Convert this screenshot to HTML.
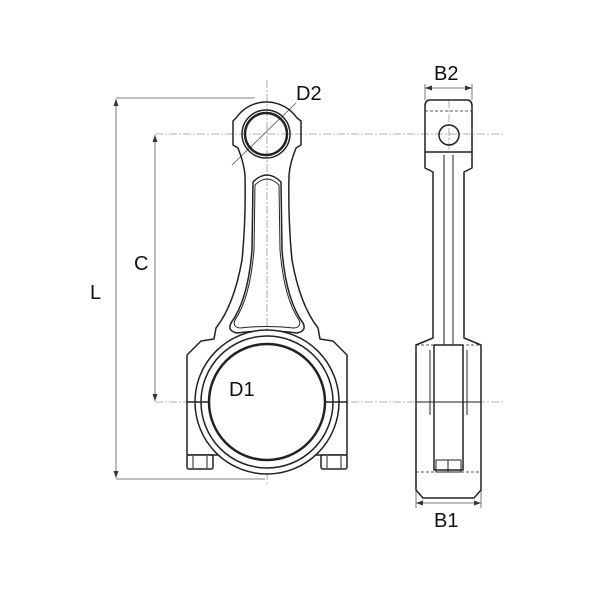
<!DOCTYPE html>
<html><head><style>body{margin:0;background:#fff}svg{display:block}</style></head><body>
<svg width="600" height="600" viewBox="0 0 600 600" xmlns="http://www.w3.org/2000/svg" font-family="Liberation Sans, sans-serif">
<rect width="600" height="600" fill="#fff"/>
<defs><marker id="a" markerWidth="8" markerHeight="8" refX="7" refY="4" orient="auto-start-reverse" markerUnits="userSpaceOnUse"><path d="M0,1.5 L7,4 L0,6.5Z" fill="#333"/></marker></defs>
<g stroke="#999" stroke-width="0.8" stroke-dasharray="8,2,2,2" fill="none">
<line x1="267" y1="80" x2="267" y2="485"/>
<line x1="155" y1="134" x2="505" y2="134"/>
<line x1="155" y1="402" x2="505" y2="402"/>
<line x1="449" y1="100" x2="449" y2="150"/>
</g>
<g stroke="#555" stroke-width="0.8" fill="none">
<line x1="116" y1="98" x2="255" y2="98"/>
<line x1="116" y1="479" x2="265" y2="479"/>
<line x1="116" y1="99" x2="116" y2="478" marker-start="url(#a)" marker-end="url(#a)"/>
<line x1="155" y1="135" x2="155" y2="401" marker-start="url(#a)" marker-end="url(#a)"/>
<line x1="232" y1="165" x2="296" y2="103"/>
<line x1="228" y1="443" x2="307" y2="362"/>
<line x1="425" y1="88" x2="472" y2="88" marker-start="url(#a)" marker-end="url(#a)"/>
<line x1="425" y1="84" x2="425" y2="100"/><line x1="472" y1="84" x2="472" y2="100"/>
<line x1="416" y1="503" x2="481" y2="503" marker-start="url(#a)" marker-end="url(#a)"/>
<line x1="416" y1="485" x2="416" y2="508"/><line x1="481" y1="485" x2="481" y2="508"/>
</g>
<g stroke="#222" stroke-width="1.5" fill="none" stroke-linejoin="round">
<path d="M236,118 A37,37 0 0 1 297,118 L301,121 L301,145 L296,148 Q290,163 289,175 Q288,220 292,260 Q300,305 318,328 L320,339 L333,341 L347,355 L347,455 L187,455 L187,355 L201,341 L214,339 L216,328 Q234,305 242,260 Q246,220 245,175 Q244,163 238,148 L233,145 L233,121 Z"/>
<circle cx="266" cy="134" r="24"/>
<circle cx="266" cy="134" r="21" stroke-width="2.5"/>
<path d="M253,182 Q267,168 281,182 L282,250 Q286,300 303,323 Q307,331 297,333 Q267,329 237,333 Q227,331 231,323 Q248,300 252,250 Z"/>
<path d="M255,185 Q267,173 279,185 L280,250 Q284,298 299,320 Q302,327 294,328 Q267,325 240,328 Q232,327 235,320 Q250,298 254,250 Z" stroke-width="1"/>
<circle cx="267" cy="402" r="72" fill="#fff"/>
<circle cx="267" cy="402" r="66"/>
<circle cx="267" cy="402" r="58" stroke-width="2.5"/>
<line x1="187" y1="402" x2="209" y2="402"/><line x1="325" y1="402" x2="347" y2="402"/>
<rect x="187" y="455" width="26" height="14" rx="2" fill="#fff"/>
<rect x="321" y="455" width="26" height="14" rx="2" fill="#fff"/>
<line x1="193" y1="456" x2="193" y2="468" stroke-width="1"/><line x1="207" y1="456" x2="207" y2="468" stroke-width="1"/>
<line x1="327" y1="456" x2="327" y2="468" stroke-width="1"/><line x1="341" y1="456" x2="341" y2="468" stroke-width="1"/>
</g>
<g stroke="#222" stroke-width="1.5" fill="none" stroke-linejoin="round">
<path d="M430,100 L467,100 Q472,100 472,106 L472,152 L425,152 L425,106 Q425,100 430,100 Z"/>
<line x1="425" y1="111" x2="472" y2="111" stroke-width="0.8" stroke-dasharray="3,2"/>
<circle cx="449" cy="135" r="10"/>
<path d="M425,152 L425,168 L433,172 L433,338 L416,345 L416,490 L423,498 L474,498 L481,490 L481,345 L464,338 L464,172 L472,168 L472,152"/>
<line x1="444" y1="155" x2="444" y2="345" stroke-width="1"/>
<line x1="453" y1="155" x2="453" y2="345" stroke-width="1"/>
<line x1="416" y1="345" x2="481" y2="345" stroke-width="0.8" stroke-dasharray="3,2"/>
<path d="M434,345 L463,345 L463,470 L434,470 Z"/>
<line x1="430" y1="350" x2="430" y2="415" stroke-width="1"/>
<line x1="467" y1="350" x2="467" y2="415" stroke-width="1"/>
<line x1="416" y1="402" x2="481" y2="402" stroke-width="1"/>
<rect x="436" y="460" width="25" height="12" stroke-width="1"/>
<line x1="448" y1="460" x2="448" y2="472" stroke-width="1"/>
<line x1="416" y1="472" x2="481" y2="472" stroke-width="0.8" stroke-dasharray="3,2"/>
</g>
<g fill="#111" font-size="20">
<text x="90" y="299">L</text>
<text x="134" y="270">C</text>
<text x="296" y="100">D2</text>
<text x="229" y="396">D1</text>
<text x="434" y="80">B2</text>
<text x="434" y="527">B1</text>
</g>
</svg>
</body></html>
